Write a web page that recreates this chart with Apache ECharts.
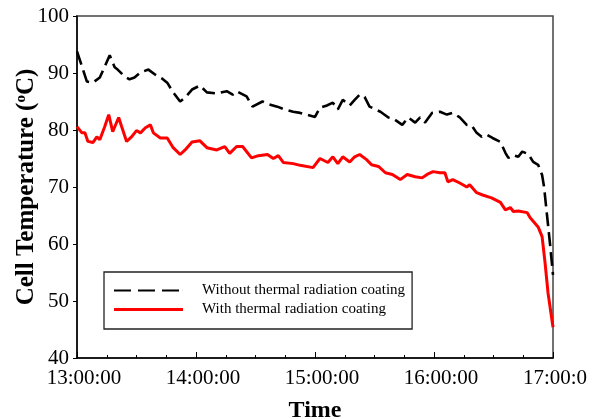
<!DOCTYPE html>
<html>
<head>
<meta charset="utf-8">
<script src="https://cdn.jsdelivr.net/npm/echarts@6/dist/echarts.min.js"></script>
<style>
html, body { margin: 0; padding: 0; background: #fff; }
#chart { width: 602px; height: 419px; }
</style>
</head>
<body>
<div id="chart"></div>
<script>
// minutes after 13:00:00 and cell temperature (degC)
var noCoatMin = [0, 5, 8, 11.5, 16.5, 19, 20.5, 24, 26.5, 29, 32, 36, 39.5, 43, 45.5, 48.5, 52, 54.5, 58, 62,
    65.5, 70.5, 75.5, 78.5, 80.5, 85.5, 88.5, 93.5, 96, 101, 104, 109, 112.5, 120, 122.5, 126, 129, 131.5, 134, 137.5,
    140, 142.5, 145, 147.5, 153, 157, 159.5, 164, 167, 170.5, 173, 175.5, 179, 183, 186.5, 189.5, 193, 196.5, 199, 201.5,
    204, 206.5, 209.5, 213.5, 216, 217.5, 220, 222.5, 224.5, 227.5, 230, 232.5, 234.5, 235.5, 237, 238.5, 240];
var noCoatTemp = [93.8, 88.5, 88.3, 89.2, 93.1, 91.0, 90.6, 89.4, 88.9, 89.2, 90.1, 90.6, 89.7, 89.0, 88.3, 86.6, 85.0, 85.7, 87.1, 87.8,
    86.6, 86.4, 86.8, 86.2, 86.8, 85.9, 84.1, 85.0, 84.6, 84.1, 83.7, 83.2, 83.0, 82.3, 83.9, 84.3, 84.8, 83.6, 85.3, 84.3,
    85.3, 86.2, 85.8, 84.1, 83.2, 82.2, 82.0, 80.9, 82.2, 81.3, 82.2, 81.3, 83.0, 83.2, 82.7, 83.0, 82.2, 80.9, 80.8, 79.5,
    78.8, 79.2, 78.6, 77.9, 76.0, 75.1, 75.6, 75.3, 76.2, 75.8, 74.4, 73.9, 72.1, 70.0, 65.0, 60.0, 54.6];

var coatMin = [0, 2.5, 4, 5.5, 8, 10, 11.5, 14, 16, 18, 21, 22.5, 25, 27.5, 30, 32, 34.5, 37, 38.5, 42,
    45.5, 48.5, 52, 54.5, 58, 62, 65.5, 70.5, 74.5, 77, 80.5, 83.5, 88, 91.5, 96, 99, 101.5, 104, 109, 112.5,
    119, 122.5, 126.5, 129, 131.5, 134, 137.5, 140, 142.5, 146, 148.5, 152, 155.5, 159, 163, 166.5, 170.5, 174, 176.5, 179.5,
    183, 185.5, 187, 189.5, 193, 196.5, 198, 201.5, 204.5, 209, 213.5, 216, 218.5, 220, 222.5, 227, 228.5, 232.5, 234.5, 236,
    237.5, 240];
var coatTemp = [80.6, 79.5, 79.5, 78.0, 77.8, 78.8, 78.3, 80.6, 82.7, 79.7, 82.2, 80.6, 78.0, 78.8, 79.9, 79.5, 80.4, 80.9, 79.5, 78.6,
    78.6, 76.9, 75.7, 76.5, 77.9, 78.1, 76.9, 76.5, 77.1, 75.9, 77.1, 77.1, 75.1, 75.5, 75.7, 75.0, 75.5, 74.3, 74.1, 73.8,
    73.4, 75.0, 74.3, 75.3, 74.1, 75.3, 74.4, 75.3, 75.7, 74.8, 73.9, 73.6, 72.5, 72.2, 71.3, 72.2, 71.8, 71.6, 72.2, 72.7,
    72.5, 72.5, 70.9, 71.3, 70.7, 70.0, 70.4, 69.0, 68.6, 68.1, 67.3, 66.0, 66.4, 65.7, 65.8, 65.5, 64.6, 63.0, 61.3, 56.7,
    51.4, 45.4];

var xTickLabels = ['13:00:00', '14:00:00', '15:00:00', '16:00:00', '17:00:0'];
var seriesNames = ['Without thermal radiation coating', 'With thermal radiation coating'];

function pairs(xs, ys) {
    var out = [];
    for (var i = 0; i < xs.length; i++) out.push([xs[i], ys[i]]);
    return out;
}

var serif = 'Liberation Serif';
// legend samples: three dashes for the black curve, a plain bar for the red one
var dashIcon = 'path://M0,0h17v2h-17z M24,0h17v2h-17z M48,0h17v2h-17z M68.9,0h0.1v2h-0.1z';
var solidIcon = 'path://M0,0h69v3h-69z';

var chart = echarts.init(document.getElementById('chart'));

var option = {
    animation: false,
    backgroundColor: '#fff',
    grid: {
        left: 77, right: 49, top: 16, bottom: 61,
        outerBoundsMode: 'none',
        show: true, borderColor: '#444', borderWidth: 1.5
    },
    legend: {
        orient: 'vertical',
        left: 104, top: 272,
        data: [
            { name: seriesNames[0], icon: dashIcon },
            { name: seriesNames[1], icon: solidIcon }
        ],
        itemWidth: 69, itemHeight: 14, itemGap: 4,
        padding: [11, 7, 12, 10],
        borderColor: '#222', borderWidth: 1.3,
        textStyle: { fontFamily: serif, fontSize: 15, color: '#000', padding: [0, 0, 0, 14] }
    },
    xAxis: {
        type: 'value',
        min: 0, max: 240, interval: 60,
        name: 'Time',
        nameLocation: 'middle',
        nameGap: 41,
        nameMoveOverlap: false,
        nameTextStyle: { fontFamily: serif, fontSize: 24, fontWeight: 'bold', color: '#000' },
        axisLine: { lineStyle: { color: '#000', width: 1.5 } },
        axisTick: { inside: true, length: 6, lineStyle: { color: '#000' } },
        minorTick: { show: true, splitNumber: 4, length: 3, lineStyle: { color: '#000' } },
        splitLine: { show: false },
        axisLabel: {
            fontFamily: serif, fontSize: 21, color: '#000', margin: 10,
            formatter: function (v) {
                var i = Math.round(v / 60);
                return (i === xTickLabels.length - 1 ? '{b|' : '{a|') + xTickLabels[i] + '}';
            },
            rich: {
                a: { fontFamily: serif, fontSize: 21, color: '#000', padding: [0, 0, 0, 14] },
                b: { fontFamily: serif, fontSize: 21, color: '#000', padding: [0, 10, 0, 14] }
            }
        }
    },
    yAxis: {
        type: 'value',
        min: 40, max: 100, interval: 10,
        name: 'Cell Temperature ({sup|o}C)',
        nameLocation: 'middle',
        nameGap: 38,
        nameMoveOverlap: false,
        nameTextStyle: {
            fontFamily: serif, fontSize: 25, fontWeight: 'bold', color: '#000',
            rich: { sup: { fontFamily: serif, fontSize: 15, fontWeight: 'bold', color: '#000', verticalAlign: 'top', padding: [0, 0, 9, 0] } }
        },
        axisLine: { show: true, lineStyle: { color: '#000', width: 1.5 } },
        axisTick: { show: true, inside: false, length: 4, lineStyle: { color: '#000' } },
        splitLine: { show: false },
        axisLabel: { fontFamily: serif, fontSize: 21, color: '#000', margin: 8 }
    },
    series: [
        {
            name: seriesNames[0],
            type: 'line',
            data: pairs(noCoatMin, noCoatTemp),
            symbol: 'none',
            lineStyle: { color: '#000', width: 2.6, type: [14, 6] },
            itemStyle: { color: '#000' }
        },
        {
            name: seriesNames[1],
            type: 'line',
            data: pairs(coatMin, coatTemp),
            symbol: 'none',
            lineStyle: { color: '#ff0000', width: 3 },
            itemStyle: { color: '#ff0000' }
        }
    ]
};

chart.setOption(option);
</script>
</body>
</html>
